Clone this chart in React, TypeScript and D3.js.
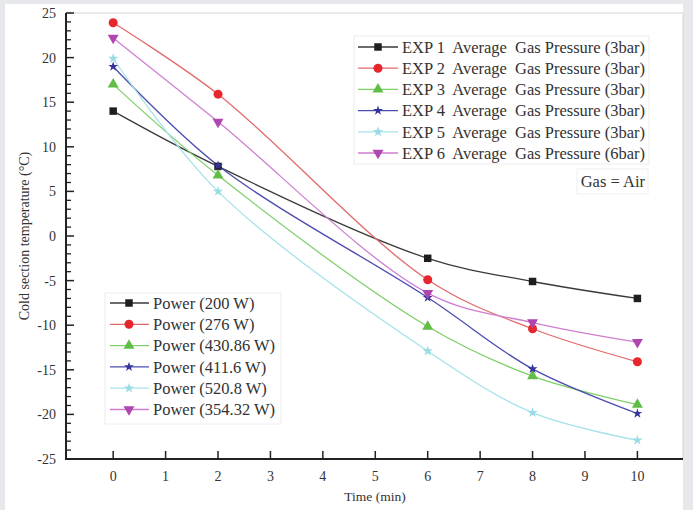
import * as d3 from 'd3'

const width = 693
const height = 510

const times = [0, 2, 6, 8, 10]
const exp1 = [14, 7.8, -2.5, -5.1, -7.0]
const exp2 = [23.9, 15.9, -4.9, -10.4, -14.1]
const exp3 = [17.0, 6.8, -10.15, -15.7, -18.9]
const exp4 = [19.0, 7.9, -6.9, -14.9, -19.9]
const exp5 = [19.9, 5.0, -12.9, -19.8, -22.9]
const exp6 = [22.2, 12.8, -6.4, -9.7, -11.9]

const expLabels = [
  'EXP 1  Average  Gas Pressure (3bar)',
  'EXP 2  Average  Gas Pressure (3bar)',
  'EXP 3  Average  Gas Pressure (3bar)',
  'EXP 4  Average  Gas Pressure (3bar)',
  'EXP 5  Average  Gas Pressure (3bar)',
  'EXP 6  Average  Gas Pressure (6bar)'
]
const powerLabels = [
  'Power (200 W)',
  'Power (276 W)',
  'Power (430.86 W)',
  'Power (411.6 W)',
  'Power (520.8 W)',
  'Power (354.32 W)'
]
const xTicks = [0, 1, 2, 3, 4, 5, 6, 7, 8, 9, 10]
const yTicks = [25, 20, 15, 10, 5, 0, -5, -10, -15, -20, -25]

const series = [exp1, exp2, exp3, exp4, exp5, exp6]
const lineColors = ['#3a3a3a', '#e26a6a', '#7fcf6a', '#4c4cb0', '#a6e3ea', '#d07fd0']
const markColors = ['#1e1e1e', '#e8262d', '#62bd48', '#33339c', '#9adce6', '#b046b0']
const symbols = [d3.symbolSquare, d3.symbolCircle, d3.symbolTriangle, d3.symbolStar, d3.symbolStar, d3.symbolTriangle]
const symSizes = [56, 64, 52, 30, 34, 52]
const rotations = [0, 0, 0, 0, 0, 180]

const margin = { left: 66, right: 10, top: 13, bottom: 51 }

function Marker({ i, x, y }: { i: number; x: number; y: number }) {
  const path = d3.symbol().type(symbols[i]).size(symSizes[i])()
  return (
    <path
      d={path || ''}
      transform={`translate(${x},${y}) rotate(${rotations[i]})`}
      fill={markColors[i]}
    />
  )
}

function App() {
  const x = d3.scaleLinear().domain([-0.9, 10.87]).range([margin.left, width - margin.right])
  const y = d3.scaleLinear().domain([-25, 25]).range([height - margin.bottom, margin.top])
  const line = d3.line<number>()
    .x((_, j) => x(times[j]))
    .y((d) => y(d))
    .curve(d3.curveCatmullRom.alpha(0.5))

  const minor = d3.range(-24, 25, 1).filter((v) => v % 5 !== 0)
  const font = '"Liberation Serif", "Times New Roman", serif'
  const x0 = margin.left
  const x1 = width - margin.right
  const yb = y(-25)
  const yt = y(25)

  return (
    <svg width={width} height={height} style={{ position: 'absolute', left: 0, top: 0 }} fontFamily={font}>
      <rect width={width} height={height} fill="#e7e8eb" />
      <rect x={5} y={4} width={x1 - 5} height={height - 4} fill="#fff" />
      {/* frame */}
      <line x1={x0} x2={x1} y1={yt} y2={yt} stroke="#d4d4d4" />
      <line x1={x1} x2={x1} y1={yt} y2={yb} stroke="#d4d4d4" />

      {series.map((s, i) => (
        <path key={i} d={line(s) || ''} fill="none" stroke={lineColors[i]} strokeWidth={1.3} />
      ))}
      {series.map((s, i) =>
        s.map((v, j) => <Marker key={i + '-' + j} i={i} x={x(times[j])} y={y(v)} />)
      )}

      {/* axes */}
      <line x1={x0} x2={x0} y1={yt} y2={yb + 1} stroke="#222" strokeWidth={2} />
      <line x1={x0 - 1} x2={x1} y1={yb} y2={yb} stroke="#222" strokeWidth={2} />
      {yTicks.map((t) => (
        <g key={t}>
          <line x1={x0} x2={x0 + 8} y1={y(t)} y2={y(t)} stroke="#222" strokeWidth={1.5} />
          <text x={56} y={y(t)} dy="0.35em" textAnchor="end" fontSize={14} fill="#333">{t}</text>
        </g>
      ))}
      {minor.map((t) => (
        <line key={t} x1={x0} x2={x0 + 5} y1={y(t)} y2={y(t)} stroke="#222" strokeWidth={1.3} />
      ))}
      {xTicks.map((t) => (
        <g key={t}>
          <line x1={x(t)} x2={x(t)} y1={yb} y2={yb - 8} stroke="#222" strokeWidth={1.5} />
          <text x={x(t)} y={yb + 22} textAnchor="middle" fontSize={14} fill="#333">{t}</text>
        </g>
      ))}
      <text x={375} y={501} textAnchor="middle" fontSize={13.5} fill="#333">Time (min)</text>
      <text
        transform={`translate(29, ${y(0)}) rotate(-90)`}
        textAnchor="middle"
        fontSize={14}
        fill="#333"
      >Cold section temperature (°C)</text>

      {/* upper legend */}
      <rect x={354} y={36} width={295} height={128} fill="#fff" stroke="#ececec" />
      {expLabels.map((l, i) => {
        const ly = 47 + i * 21.2
        return (
          <g key={l}>
            <line x1={358} x2={398} y1={ly} y2={ly} stroke={lineColors[i]} strokeWidth={1.3} />
            <Marker i={i} x={378} y={ly} />
            <text x={402} y={ly} dy="0.35em" fontSize={16.5} fill="#333" style={{ whiteSpace: 'pre' }} textLength={243} lengthAdjust="spacingAndGlyphs">{l}</text>
          </g>
        )
      })}
      <rect x={577} y={169} width={71} height={25} fill="#fff" stroke="#efefef" />
      <text x={645} y={181} dy="0.35em" textAnchor="end" fontSize={16.5} fill="#333">Gas = Air</text>

      {/* lower legend */}
      <rect x={105} y={293} width={176} height={131} fill="#fff" stroke="#ececec" />
      {powerLabels.map((l, i) => {
        const ly = 303 + i * 21.3
        return (
          <g key={l}>
            <line x1={110} x2={149} y1={ly} y2={ly} stroke={lineColors[i]} strokeWidth={1.3} />
            <Marker i={i} x={129} y={ly} />
            <text x={153} y={ly} dy="0.35em" fontSize={16.5} fill="#333">{l}</text>
          </g>
        )
      })}
    </svg>
  )
}

export default App
